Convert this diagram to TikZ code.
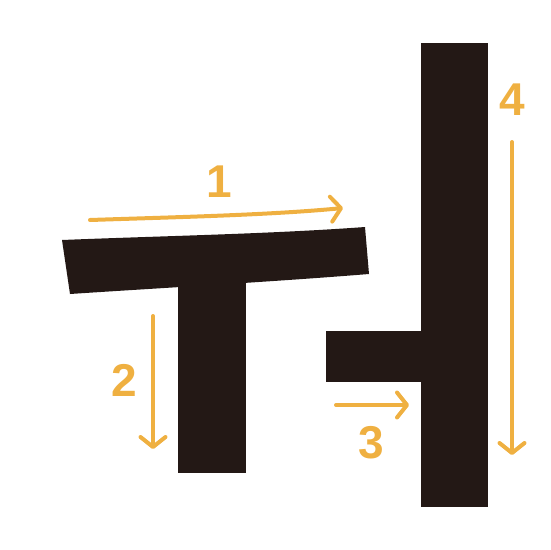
\documentclass[tikz,border=0pt]{standalone}
\usepackage{fontspec}
\setmainfont{Liberation Sans}
\usetikzlibrary{arrows.meta}
\definecolor{strokeink}{RGB}{35,24,21}
\definecolor{orderorange}{RGB}{239,176,65}

\begin{document}
\begin{tikzpicture}[
  x=1pt, y=-1pt,
  ink/.style={fill=strokeink, draw=none},
  order/.style={draw=orderorange, line width=4pt, line cap=round,
                -{Straight Barb[length=10pt, width=25pt, line cap=round, round]}},
  num/.style={text=orderorange, font=\fontsize{46}{46}\selectfont\bfseries, inner sep=0pt},
]
\useasboundingbox (0,0) rectangle (550,550);

% ==================== strokes of the letter ====================
\fill[ink] (62,240) .. controls (160,236) and (270,234) .. (365,227)
  -- (369,274) .. controls (270,282) and (160,288) .. (70,294) -- cycle;
\fill[ink] (178,280) rectangle (246,473);
\fill[ink] (326,331) rectangle (430,382);
\fill[ink] (421,43) rectangle (488,507);

% ==================== stroke order arrows ====================
\coordinate (a1s) at (90,220);
\coordinate (a1e) at (343,208);
\coordinate (a2s) at (153,316);
\coordinate (a2e) at (153,449);
\coordinate (a3s) at (336,405);
\coordinate (a3e) at (409,405);
\coordinate (a4s) at (512,142);
\coordinate (a4e) at (512,455);

\draw[order] (a1s) .. controls (180,217) and (270,215) .. (a1e);
\draw[order] (a2s) -- (a2e);
\draw[order] (a3s) -- (a3e);
\draw[order] (a4s) -- (a4e);

% ==================== order numbers ====================
\node[num] (n1) at (219,182) {1};
\node[num] (n2) at (124,380) {2};
\node[num] (n3) at (371,443) {3};
\node[num] (n4) at (512,100) {4};

\end{tikzpicture}
\end{document}
